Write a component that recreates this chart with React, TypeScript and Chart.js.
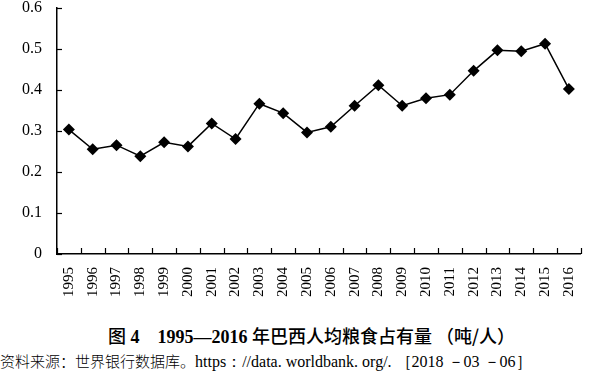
import React, { useEffect, useRef } from "react";
import { Chart, registerables } from "chart.js";

Chart.register(...registerables);

const years = ["1995","1996","1997","1998","1999","2000","2001","2002","2003","2004","2005","2006","2007","2008","2009","2010","2011","2012","2013","2014","2015","2016"];
const perCapitaGrain = [0.303,0.255,0.265,0.238,0.272,0.262,0.318,0.280,0.366,0.343,0.296,0.310,0.361,0.411,0.361,0.379,0.388,0.446,0.496,0.494,0.512,0.402];
const yTickMin = 0;
const yTickMax = 0.6;
const yTickStep = 0.1;
const titleLead = "图 4";
const titleRange = "1995—2016";
const titleMain = "年巴西人均粮食占有量";
const titleUnit = "（吨/人）";
const sourceCjk = "资料来源：世界银行数据库。";
const sourceUrl = "https：//data. worldbank. org/. ［2018 －03 －06］";

const innerTicks = {
  id: "innerTicks",
  afterDraw(chart: any) {
    const ctx = chart.ctx;
    const x = chart.scales.x;
    const y = chart.scales.y;
    ctx.save();
    ctx.strokeStyle = "#000";
    ctx.lineWidth = 1.2;
    const n = x.ticks.length;
    const w = (x.right - x.left) / n;
    for (let i = 0; i <= n; i++) {
      const px = Math.round(x.left + i * w) + 0.5;
      ctx.beginPath();
      ctx.moveTo(px, x.top);
      ctx.lineTo(px, x.top - 6);
      ctx.stroke();
    }
    y.ticks.forEach((t: any) => {
      const py = Math.round(y.getPixelForValue(t.value)) + 0.5;
      ctx.beginPath();
      ctx.moveTo(y.right, py);
      ctx.lineTo(y.right + 5, py);
      ctx.stroke();
    });
    ctx.restore();
  },
};

const SERIF = "'Liberation Serif', 'Times New Roman', serif";

export default function App() {
  const ref = useRef<HTMLCanvasElement>(null);
  useEffect(() => {
    const chart = new Chart(ref.current!, {
      type: "line",
      data: {
        labels: years,
        datasets: [
          {
            data: perCapitaGrain,
            borderColor: "#000",
            backgroundColor: "#000",
            borderWidth: 1.5,
            pointStyle: "rectRot",
            pointRadius: 6,
            pointBorderWidth: 0,
            tension: 0,
          },
        ],
      },
      options: {
        animation: false,
        responsive: false,
        maintainAspectRatio: false,
        layout: { padding: { top: 5, right: 2, left: 0, bottom: 0 } },
        plugins: { legend: { display: false }, tooltip: { enabled: false }, title: { display: false } },
        scales: {
          x: {
            offset: true,
            grid: { display: false, drawTicks: false, offset: true },
            border: { display: true, color: "#000", width: 1.5 },
            ticks: {
              minRotation: 90,
              maxRotation: 90,
              padding: 13,
              color: "#000",
              font: { family: SERIF, size: 15 },
            },
            afterFit: (s: any) => { s.height = 56; },
          },
          y: {
            min: yTickMin,
            max: yTickMax,
            grid: { display: false, drawTicks: false },
            border: { display: true, color: "#000", width: 1.5 },
            ticks: {
              stepSize: yTickStep,
              padding: 15,
              color: "#000",
              font: { family: SERIF, size: 16 },
              callback: (v: any) => String(Number(Number(v).toFixed(1))),
            },
            afterFit: (s: any) => { s.width = 57; },
          },
        },
      },
      plugins: [innerTicks],
    });
    return () => chart.destroy();
  }, []);

  const cjk = "'Noto Sans CJK SC', sans-serif";
  return (
    <div style={{ position: "fixed", left: 0, top: 0, width: 600, height: 375, background: "#fff", overflow: "hidden" }}>
      <canvas ref={ref} width={600} height={327} style={{ position: "absolute", left: 0, top: -17, width: 600, height: 327 }} />
      <div
        style={{
          position: "absolute",
          left: 108,
          top: 324,
          fontSize: 18,
          lineHeight: "22px",
          color: "#000",
          whiteSpace: "pre",
        }}
      >
        <span style={{ fontFamily: cjk, fontWeight: 500 }}>图</span>
        <span style={{ fontFamily: SERIF, fontWeight: "bold" }}>{" 4    " + titleRange + " "}</span>
        <span style={{ fontFamily: cjk, fontWeight: 500 }}>{titleMain + " " + titleUnit}</span>
      </div>
      <div
        style={{
          position: "absolute",
          left: 0,
          top: 351,
          lineHeight: "20px",
          color: "#000",
          whiteSpace: "pre",
        }}
      >
        <span style={{ fontFamily: cjk, fontSize: 15, fontWeight: 300 }}>{sourceCjk}</span>
        <span style={{ fontFamily: SERIF, fontSize: 16 }}>{sourceUrl}</span>
      </div>
      <span style={{ display: "none" }}>{titleLead}</span>
    </div>
  );
}
